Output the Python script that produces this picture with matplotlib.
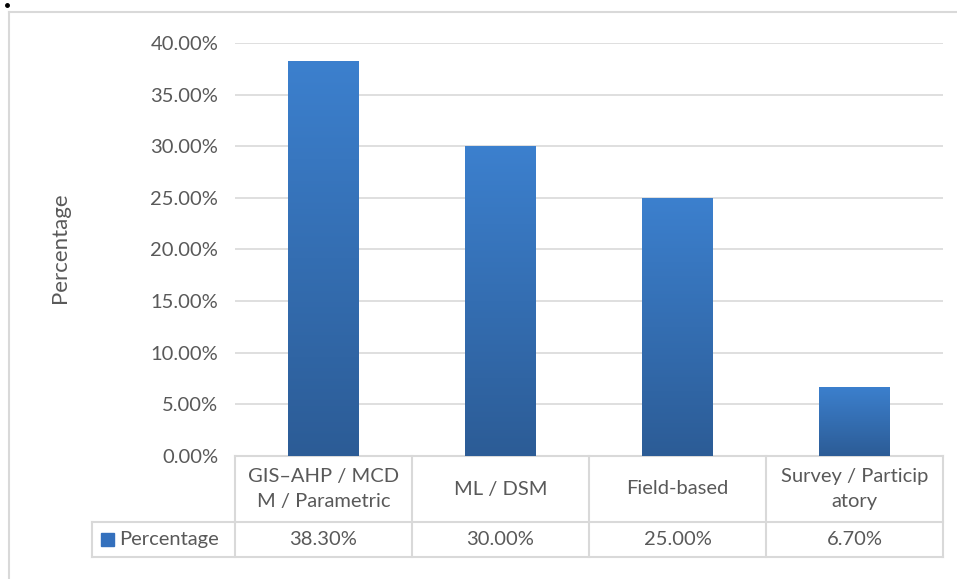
import numpy as np
import matplotlib.pyplot as plt
from matplotlib.patches import Rectangle
from matplotlib.lines import Line2D

# chart data
categories = ["GIS\u2013AHP / MCD\nM / Parametric", "ML / DSM", "Field-based", "Survey / Particip\natory"]
values = [38.30, 30.00, 25.00, 6.70]
series_name = "Percentage"
yticks = [0, 5, 10, 15, 20, 25, 30, 35, 40]

plt.rcParams['font.family'] = ['Lato', 'DejaVu Sans']
txt = '#595959'
grid = '#d9d9d9'
fs = 14.5

W, H = 957, 579
fig = plt.figure(figsize=(W / 100, H / 100), dpi=100)

# axes box in pixel terms
x0, x1, ytop, ybot = 235, 943, 43, 456
ax = fig.add_axes([x0 / W, (H - ybot) / H, (x1 - x0) / W, (ybot - ytop) / H])

x = np.arange(len(categories))
bw = 0.4
bars = ax.bar(x, values, width=bw, color='#3470bd', zorder=2)

# vertical gradient fill per bar
grad = np.linspace(0, 1, 256).reshape(-1, 1)
top = np.array([60, 128, 206]) / 255
bot = np.array([44, 92, 150]) / 255
img = bot + (top - bot) * grad[..., None]
for b, v in zip(bars, values):
    b.set_alpha(0)
    im = ax.imshow(img, extent=[b.get_x(), b.get_x() + bw, 0, v], origin='lower',
                   aspect='auto', zorder=3)
    im.set_clip_path(Rectangle((b.get_x(), 0), bw, v, transform=ax.transData))

ax.set_xlim(-0.5, len(categories) - 0.5)
ax.set_ylim(0, 40)
ax.set_yticks(yticks)
ax.set_yticklabels([f"{t:.2f}%" for t in yticks], fontsize=fs, color=txt)
ax.tick_params(axis='y', length=0, pad=12)
ax.set_xticks([])
ax.yaxis.grid(True, color=grid, lw=1.2, zorder=0)
for s in ax.spines.values():
    s.set_visible(False)

# axis title
fig.text(60 / W, 1 - 248 / H, series_name, rotation=90, ha='center', va='center',
         fontsize=16, color=txt)

# data table under the plot
tr = ax.get_xaxis_transform()
h1 = 66 / (ybot - ytop)
h2 = 35 / (ybot - ytop)
unit = (x1 - x0) / len(categories)
leg_left = -0.5 - 143 / unit
n = len(categories)

def seg(xs, ys):
    ax.add_line(Line2D(xs, ys, transform=tr, color=grid, lw=1.5, clip_on=False))

seg([-0.5, n - 0.5], [0, 0])
seg([-0.5, n - 0.5], [-h1, -h1])
seg([leg_left, -0.5], [-h1, -h1])
seg([leg_left, n - 0.5], [-h1 - h2, -h1 - h2])
seg([leg_left, leg_left], [-h1, -h1 - h2])
for i in range(n + 1):
    seg([i - 0.5, i - 0.5], [0, -h1 - h2])

for i, (c, v) in enumerate(zip(categories, values)):
    ax.text(i, -h1 / 2, c, transform=tr, ha='center', va='center', fontsize=fs,
            color=txt, linespacing=1.55)
    ax.text(i, -h1 - h2 / 2, f"{v:.2f}%", transform=tr, ha='center', va='center',
            fontsize=fs, color=txt)

# legend key in the table
ax.add_patch(Rectangle((leg_left + 9 / unit, -h1 - h2 / 2 - 6.5 / (ybot - ytop)),
                       13 / unit, 13 / (ybot - ytop), transform=tr,
                       color='#3470bd', clip_on=False))
ax.text(leg_left + 27 / unit, -h1 - h2 / 2, series_name, transform=tr, ha='left',
        va='center', fontsize=fs, color=txt)

# outer chart border (top and left visible)
fig.add_artist(Line2D([9 / W, 1], [1 - 12 / H, 1 - 12 / H], transform=fig.transFigure,
                      color=grid, lw=1.5))
fig.add_artist(Line2D([9 / W, 9 / W], [0, 1 - 12 / H], transform=fig.transFigure,
                      color=grid, lw=1.5))
fig.add_artist(Line2D([6.5 / W], [1 - 4.5 / H], transform=fig.transFigure,
                      marker='o', markersize=2.5, color='black', lw=0))

fig.savefig("out.png", dpi=100)
